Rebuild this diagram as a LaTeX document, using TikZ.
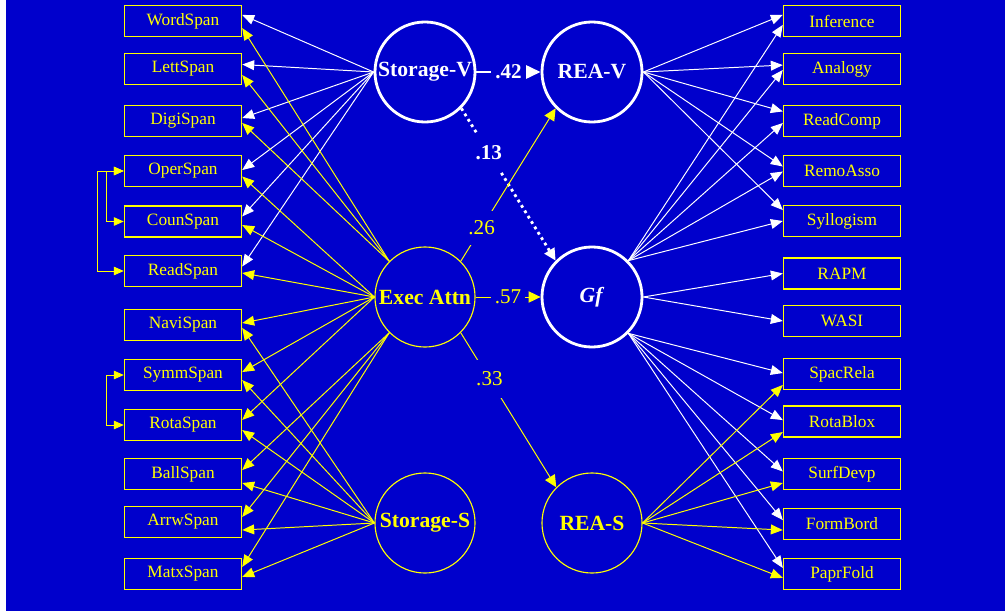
\documentclass[tikz,border=0pt]{standalone}
\usepackage{fontspec}
\setmainfont{Liberation Serif}
\usetikzlibrary{arrows.meta}

\definecolor{slideblue}{RGB}{0,0,204}
\definecolor{slideyellow}{RGB}{255,255,0}

\begin{document}
\begin{tikzpicture}[
  x=0.025cm, y=-0.025cm,
  obs/.style={draw=slideyellow, line width=1pt, minimum width=2.925cm,
              minimum height=0.775cm, inner sep=0pt, text=slideyellow,
              font=\fontsize{12.3}{14}\selectfont},
  latw/.style={circle, draw=white, line width=2pt, minimum size=2.5cm,
               inner sep=0pt, text=white, font=\fontsize{15.4}{17}\selectfont\bfseries},
  laty/.style={circle, draw=slideyellow, line width=0.8pt, minimum size=2.5cm,
               inner sep=0pt, text=slideyellow, font=\fontsize{15.4}{17}\selectfont\bfseries},
  wload/.style={white, line width=0.7pt, -{Triangle[length=8.5pt,width=7pt]}},
  yload/.style={slideyellow, line width=0.7pt, -{Triangle[length=8.5pt,width=7pt]}},
  covar/.style={slideyellow, line width=0.7pt,
                {Triangle[length=7pt,width=6pt]}-{Triangle[length=7pt,width=6pt]}},
  coef/.style={fill=slideblue, font=\fontsize{15}{17}\selectfont}
]
% slide
\useasboundingbox (0,0) rectangle (1005,611);
\fill[white] (0,0) rectangle (1005,611);
\fill[slideblue] (6,0) rectangle (1005,611);

% latent variables
\node[latw] (StorV) at (425,72) {Storage-V};
\node[latw] (ReaV) at (592,72) {REA-V};
\node[laty] (Exec) at (425,297) {Exec Attn};
\node[latw] (Gf) at (592,297) {\textit{Gf}};
\node[laty] (StorS) at (425,523) {Storage-S};
\node[laty] (ReaS) at (592,523) {REA-S};

% span tasks
\node[obs] (WordSpan) at (183,21) {WordSpan};
\node[obs] (LettSpan) at (183,69) {LettSpan};
\node[obs] (DigiSpan) at (183,121) {DigiSpan};
\node[obs] (OperSpan) at (183,171) {OperSpan};
\node[obs] (CounSpan) at (183,221.5) {CounSpan};
\node[obs] (ReadSpan) at (183,271) {ReadSpan};
\node[obs] (NaviSpan) at (183,325) {NaviSpan};
\node[obs] (SymmSpan) at (183,375) {SymmSpan};
\node[obs] (RotaSpan) at (183,425) {RotaSpan};
\node[obs] (BallSpan) at (183,474) {BallSpan};
\node[obs] (ArrwSpan) at (183,522) {ArrwSpan};
\node[obs] (MatxSpan) at (183,574) {MatxSpan};

% reasoning tasks
\node[obs] (Inference) at (842,21) {Inference};
\node[obs] (Analogy) at (842,69) {Analogy};
\node[obs] (ReadComp) at (842,121) {ReadComp};
\node[obs] (RemoAsso) at (842,171) {RemoAsso};
\node[obs] (Syllogism) at (842,221) {Syllogism};
\node[obs] (RAPM) at (842,273.5) {RAPM};
\node[obs] (WASI) at (842,321) {WASI};
\node[obs] (SpacRela) at (842,374) {SpacRela};
\node[obs] (RotaBlox) at (842,421.5) {RotaBlox};
\node[obs] (SurfDevp) at (842,474) {SurfDevp};
\node[obs] (FormBord) at (842,524) {FormBord};
\node[obs] (PaprFold) at (842,574) {PaprFold};

% loadings, left
\path[wload] (StorV.west) edge ([yshift=4.3pt]WordSpan.east)
  edge ([yshift=3.2pt]LettSpan.east) edge ([yshift=2.1pt]DigiSpan.east)
  edge ([yshift=0.7pt]OperSpan.east) edge ([yshift=3.6pt]CounSpan.east)
  edge ([yshift=3.2pt]ReadSpan.east);
\path[yload] (Exec.135) edge ([yshift=-5pt]WordSpan.east)
  edge ([yshift=-4.3pt]LettSpan.east) edge ([yshift=-1.4pt]DigiSpan.east);
\path[yload] (Exec.west) edge ([yshift=-3.9pt]OperSpan.east)
  edge ([yshift=-2.5pt]CounSpan.east) edge ([yshift=-1.4pt]ReadSpan.east)
  edge ([yshift=1.4pt]NaviSpan.east) edge ([yshift=2.1pt]SymmSpan.east)
  edge ([yshift=3.6pt]RotaSpan.east);
\path[yload] (Exec.225) edge ([yshift=2.8pt]BallSpan.east)
  edge ([yshift=3.6pt]ArrwSpan.east) edge ([yshift=5pt]MatxSpan.east);
\path[yload] (StorS.west) edge ([yshift=-2.1pt]NaviSpan.east)
  edge ([yshift=-3.6pt]SymmSpan.east) edge ([yshift=-3.6pt]RotaSpan.east)
  edge ([yshift=-6.4pt]BallSpan.east) edge ([yshift=-5.7pt]ArrwSpan.east)
  edge ([yshift=-2.1pt]MatxSpan.east);

% loadings, right
\path[wload] (ReaV.east) edge ([yshift=4.3pt]Inference.west)
  edge ([yshift=2.8pt]Analogy.west) edge ([yshift=6.8pt]ReadComp.west)
  edge ([yshift=3.2pt]RemoAsso.west) edge ([yshift=7.8pt]Syllogism.west);
\path[wload] (Gf.45) edge ([yshift=-2.8pt]Inference.west)
  edge ([yshift=-0.7pt]Analogy.west) edge ([yshift=-1.4pt]ReadComp.west)
  edge ([yshift=-0.4pt]RemoAsso.west) edge (Syllogism.west);
\path[wload] (Gf.east) edge (RAPM.west) edge (WASI.west);
\path[wload] (Gf.-45) edge ([yshift=0.7pt]SpacRela.west)
  edge ([yshift=1pt]RotaBlox.west) edge ([yshift=1.8pt]SurfDevp.west)
  edge ([yshift=2.8pt]FormBord.west) edge ([yshift=4.3pt]PaprFold.west);
\path[yload] (ReaS.east) edge ([yshift=-7.8pt]SpacRela.west)
  edge ([yshift=-7.5pt]RotaBlox.west) edge ([yshift=-6.4pt]SurfDevp.west)
  edge ([yshift=-4.3pt]FormBord.west) edge ([yshift=-2.8pt]PaprFold.west);

% correlated errors
\draw[covar] (OperSpan.west) -- ++(-17,0) |- (CounSpan.west);
\draw[covar] (OperSpan.west) -- ++(-26,0) |- (ReadSpan.west);
\draw[covar] (SymmSpan.west) -- ++(-17,0) |- (RotaSpan.west);

% structural paths
\draw[white, line width=1.8pt, -{Triangle[length=10.5pt,width=9.5pt]}]
  (StorV) -- (ReaV) node[coef, midway, text=white, inner sep=3pt] {\textbf{.42}};
\draw[white, line width=2pt, dash pattern=on 2pt off 2.5pt,
      -{Triangle[length=8.5pt,width=8pt]}]
  (StorV.-45) -- (Gf.135) node[coef, pos=0.29, text=white, inner sep=8.5pt] {\textbf{.13}};
\draw[slideyellow, line width=0.7pt, -{Triangle[length=8.5pt,width=8pt]}]
  (Exec.45) -- (ReaV.225) node[coef, pos=0.22, text=slideyellow, inner sep=7pt] {.26};
\draw[slideyellow, line width=0.7pt, -{Triangle[length=8.5pt,width=8pt]}]
  (Exec) -- (Gf) node[coef, midway, text=slideyellow, inner sep=3pt] {.57};
\draw[slideyellow, line width=0.7pt, -{Triangle[length=8.5pt,width=8pt]}]
  (Exec.-45) -- (ReaS.135) node[coef, pos=0.3, text=slideyellow, inner sep=8.5pt] {.33};
\end{tikzpicture}
\end{document}
